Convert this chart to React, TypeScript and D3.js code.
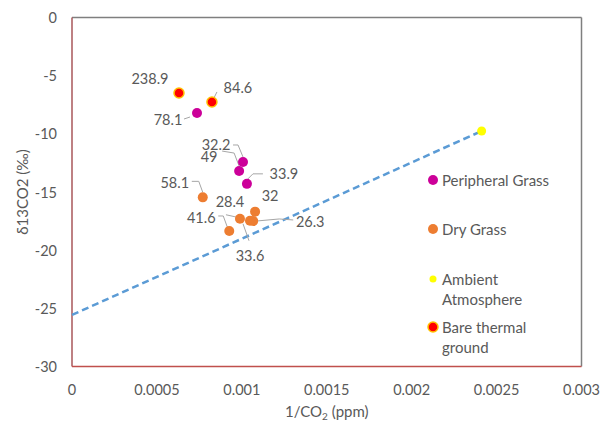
import React from "react";
import * as d3 from "d3";

// Keeling-plot style scatter: δ13C of CO2 versus inverse CO2 concentration.
const peripheralX = [0.000736, 0.001007, 0.000984, 0.00103];
const peripheralY = [-8.21, -12.42, -13.2, -14.3];
const peripheralLabels = ["78.1", "32.2", "49", "33.9"];

const dryX = [0.00077, 0.001078, 0.000989, 0.001048, 0.001067, 0.000926];
const dryY = [-15.46, -16.69, -17.3, -17.47, -17.49, -18.35];
const dryLabels = ["58.1", "32", "28.4", "33.6", "26.3", "41.6"];

const ambientX = [0.002412];
const ambientY = [-9.76];

const bareX = [0.00063, 0.000824];
const bareY = [-6.49, -7.26];
const bareLabels = ["238.9", "84.6"];

// Mixing line from the intercept up to the ambient sample
const trendX = [0, 0.002412];
const trendY = [-25.57, -9.76];

const xTicks = [0, 0.0005, 0.001, 0.0015, 0.002, 0.0025, 0.003];
const xTickLabels = ["0", "0.0005", "0.001", "0.0015", "0.002", "0.0025", "0.003"];
const yTicks = [0, -5, -10, -15, -20, -25, -30];

const W = 602;
const H = 421;
const plot = { left: 72, top: 17.5, right: 581.5, bottom: 366.5 };
const TEXT = "#595959";
const FONT = "Lato, 'Open Sans', sans-serif";

// label placement: text centre offset from the point, and optional leader polyline (offsets)
type Lab = { dx: number; dy: number; leader?: [number, number][] };
const bareLab: Lab[] = [
  { dx: -29, dy: -15 },
  { dx: 26, dy: -14, leader: [[5, -10], [2, -4]] },
];
const periLab: Lab[] = [
  { dx: -29, dy: 6, leader: [[-13, 6], [-7, 4]] },
  { dx: -27, dy: -17, leader: [[-10, -17], [-5, -17], [0, -5]] },
  { dx: -30, dy: -15, leader: [[-17, -20], [-5, -18], [0, -5]] },
  { dx: 37, dy: -10, leader: [[16, -10], [6, -10], [0, -4]] },
];
const dryLab: Lab[] = [
  { dx: -28, dy: -15, leader: [[-11, -16], [-4, -16], [0, -5]] },
  { dx: 15, dy: -16 },
  { dx: -10, dy: -17, leader: [[-14, -4], [-5, -2], [0, 0]] },
  { dx: 0, dy: 35, leader: [[-1, 20], [-7, 3]] },
  { dx: 57, dy: 1, leader: [[4, 0], [26, -2], [40, -1]] },
  { dx: -28, dy: -13, leader: [[-11, -15], [-6, -15], [-2, -4]] },
];

export default function App() {
  const x = d3.scaleLinear().domain([0, 0.003]).range([plot.left, plot.right]);
  const y = d3.scaleLinear().domain([-30, 0]).range([plot.bottom, plot.top]);
  const line = d3
    .line<number>()
    .x((i) => x(trendX[i]))
    .y((i) => y(trendY[i]));

  const renderLabels = (xs: number[], ys: number[], labels: string[], labs: Lab[], key: string) =>
    labels.map((t, i) => {
      const px = x(xs[i]);
      const py = y(ys[i]);
      const l = labs[i];
      return (
        <g key={key + i}>
          {l.leader && (
            <polyline
              points={l.leader.map(([a, b]) => `${px + a},${py + b}`).join(" ")}
              fill="none"
              stroke="#a6a6a6"
              strokeWidth={1}
            />
          )}
          <text
            x={px + l.dx}
            y={py + l.dy}
            textAnchor="middle"
            dominantBaseline="central"
            fontSize={14.5}
            fill={TEXT}
            fontFamily={FONT}
          >
            {t}
          </text>
        </g>
      );
    });

  const dots = (xs: number[], ys: number[], r: number, fill: string, stroke: string | null, key: string) =>
    xs.map((v, i) => (
      <circle
        key={key + i}
        cx={x(v)}
        cy={y(ys[i])}
        r={r}
        fill={fill}
        stroke={stroke ?? "none"}
        strokeWidth={stroke ? 1.5 : 0}
      />
    ));

  const legend = [
    { lines: ["Peripheral Grass"], cy: 180, r: 5, fill: "#cc0099", stroke: null },
    { lines: ["Dry Grass"], cy: 229, r: 5, fill: "#ed7d31", stroke: null },
    { lines: ["Ambient", "Atmosphere"], cy: 279, r: 3.5, fill: "#ffff00", stroke: null },
    { lines: ["Bare thermal", "ground"], cy: 327, r: 5, fill: "#ff0000", stroke: "#ffc000" },
  ];

  return (
    <svg
      width={W}
      height={H}
      style={{ position: "absolute", left: 0, top: 0, background: "#ffffff" }}
      fontFamily={FONT}
    >
      <rect x={0} y={0} width={W} height={H} fill="#ffffff" />

      {/* plot frame */}
      <line x1={plot.left} y1={plot.top} x2={plot.right} y2={plot.top} stroke="#7f7f7f" strokeWidth={1.5} />
      <line x1={plot.right} y1={plot.top} x2={plot.right} y2={plot.bottom} stroke="#7f7f7f" strokeWidth={1.5} />
      <line x1={plot.left} y1={plot.top} x2={plot.left} y2={plot.bottom} stroke="#a8575a" strokeWidth={1.5} />
      <line x1={plot.left} y1={plot.bottom} x2={plot.right} y2={plot.bottom} stroke="#c0504d" strokeWidth={1.5} />

      {/* y tick labels */}
      {yTicks.map((t) => (
        <text
          key={"yt" + t}
          x={57}
          y={y(t)}
          textAnchor="end"
          dominantBaseline="central"
          fontSize={14.5}
          fill={TEXT}
        >
          {t}
        </text>
      ))}

      {/* x tick labels */}
      {xTicks.map((t, i) => (
        <text
          key={"xt" + i}
          x={x(t)}
          y={389}
          textAnchor="middle"
          dominantBaseline="central"
          fontSize={14.5}
          fill={TEXT}
        >
          {xTickLabels[i]}
        </text>
      ))}

      {/* axis titles */}
      <text x={(plot.left + plot.right) / 2} y={417} textAnchor="middle" fontSize={15} fill={TEXT}>
        1/CO
        <tspan fontSize={10} dy={3}>2</tspan>
        <tspan dy={-3}> (ppm)</tspan>
      </text>
      <text
        transform={`translate(22,${(plot.top + plot.bottom) / 2}) rotate(-90)`}
        textAnchor="middle"
        dominantBaseline="central"
        fontSize={15}
        fill={TEXT}
      >
        δ13CO2 (‰)
      </text>

      {/* mixing line */}
      <path d={line([0, 1]) ?? ""} fill="none" stroke="#5b9bd5" strokeWidth={2.5} strokeDasharray="7,4" />

      {/* leader lines and value labels */}
      {renderLabels(bareX, bareY, bareLabels, bareLab, "bl")}
      {renderLabels(peripheralX, peripheralY, peripheralLabels, periLab, "pl")}
      {renderLabels(dryX, dryY, dryLabels, dryLab, "dl")}

      {/* markers */}
      {dots(peripheralX, peripheralY, 5, "#cc0099", null, "p")}
      {dots(dryX, dryY, 5, "#ed7d31", null, "d")}
      {dots(ambientX, ambientY, 4.5, "#ffff00", null, "a")}
      {dots(bareX, bareY, 5, "#ff0000", "#ffc000", "b")}

      {/* legend */}
      {legend.map((g) => (
        <g key={g.lines[0]}>
          <circle cx={433} cy={g.cy} r={g.r} fill={g.fill} stroke={g.stroke ?? "none"} strokeWidth={g.stroke ? 1.5 : 0} />
          {g.lines.map((ln, j) => (
            <text
              key={ln}
              x={442}
              y={g.cy + j * 20}
              dominantBaseline="central"
              fontSize={15}
              fill={TEXT}
            >
              {ln}
            </text>
          ))}
        </g>
      ))}
    </svg>
  );
}
